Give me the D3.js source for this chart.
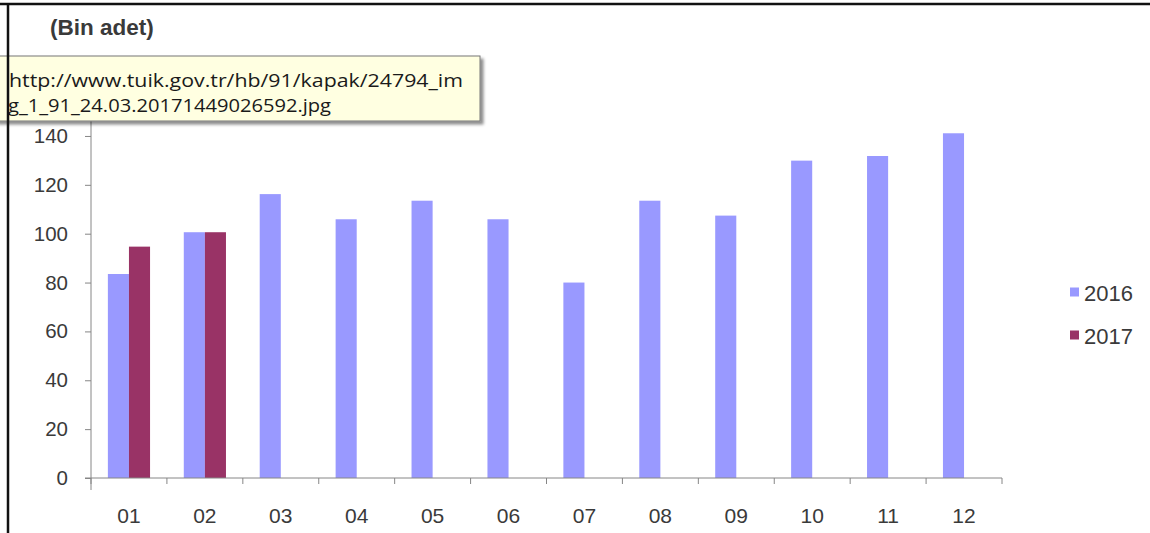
<!DOCTYPE html>
<html><head><meta charset="utf-8">
<script src="https://cdn.jsdelivr.net/npm/d3@7"></script>
<style>
html,body{margin:0;padding:0;background:#fff;}
svg{display:block;}
</style>
</head><body>
<svg id="chart" width="1150" height="533"></svg>
<script>
const months = ["01","02","03","04","05","06","07","08","09","10","11","12"];
const seriesNames = ["2016","2017"];
const values2016 = [83.5,100.6,116.2,105.9,113.5,105.9,80.0,113.5,107.4,129.9,131.8,141.1];
const values2017 = [94.7,100.6,null,null,null,null,null,null,null,null,null,null];
const yTicks = [0,20,40,60,80,100,120,140];
const colors = ["#9999FF","#993366"];
const titleText = "(Bin adet)";
const tooltipLines = ["http://www.tuik.gov.tr/hb/91/kapak/24794_im","g_1_91_24.03.20171449026592.jpg"];

const svg = d3.select("#chart");
const left = 91, right = 1002, y0 = 478, yTop = 87.1;

const x = d3.scaleBand().domain(months).range([left, right]).paddingInner(0).paddingOuter(0);
const x1 = d3.scaleBand().domain(seriesNames).range([0, x.bandwidth()]).paddingInner(0).paddingOuter(0.8);
const y = d3.scaleLinear().domain([0,160]).range([y0, yTop]);

const data = months.map((m,i)=>({m, vals:[values2016[i], values2017[i]]}));

// bars
const g = svg.append("g");
data.forEach(d=>{
  d.vals.forEach((v,j)=>{
    if(v==null) return;
    g.append("rect")
      .attr("x", x(d.m)+x1(seriesNames[j]))
      .attr("y", y(v))
      .attr("width", x1.bandwidth())
      .attr("height", y(0)-y(v))
      .attr("fill", colors[j]);
  });
});

// y axis
const yAxis = d3.axisLeft(y).tickValues(yTicks).tickSize(6).tickPadding(17);
const ya = svg.append("g").attr("transform",`translate(${left},0)`).call(yAxis);
ya.select(".domain").attr("stroke","#868686").attr("d",`M0,${yTop}V${y0+12}`);
ya.selectAll(".tick line").attr("stroke","#868686");
ya.selectAll(".tick text").attr("font-family","Liberation Sans, Arial, sans-serif").attr("font-size",20.5).attr("fill","#3a3a3a");

// x axis
const xa = svg.append("g").attr("transform",`translate(0,${y0})`);
xa.append("line").attr("x1",left-6).attr("x2",right).attr("y1",0).attr("y2",0).attr("stroke","#868686");
const bounds = months.map(m=>x(m)).concat([right]);
xa.selectAll("line.tk").data(bounds).enter().append("line").attr("class","tk")
  .attr("x1",d=>d).attr("x2",d=>d).attr("y1",0).attr("y2",6).attr("stroke","#868686");
xa.selectAll("text").data(months).enter().append("text")
  .attr("x",d=>x(d)+x.bandwidth()/2).attr("y",45)
  .attr("text-anchor","middle")
  .attr("font-family","Liberation Sans, Arial, sans-serif").attr("font-size",21).attr("fill","#3a3a3a")
  .text(d=>d);

// legend
const lg = svg.append("g");
seriesNames.forEach((s,i)=>{
  const cy = 292 + i*43;
  lg.append("rect").attr("x",1070).attr("y",cy-4.5).attr("width",9).attr("height",9).attr("fill",colors[i]);
  lg.append("text").attr("x",1084).attr("y",cy+9).attr("font-family","Liberation Sans, Arial, sans-serif")
    .attr("font-size",22).attr("fill","#3a3a3a").text(s);
});

// title
svg.append("text").attr("x",50).attr("y",35).attr("font-family","Liberation Sans, Arial, sans-serif")
  .attr("font-weight","bold").attr("font-size",22.5).attr("fill","#3a3a3a").text(titleText);

// tooltip
const defs = svg.append("defs");
const f = defs.append("filter").attr("id","sh").attr("x","-5%").attr("y","-20%").attr("width","115%").attr("height","160%");
f.append("feDropShadow").attr("dx",3).attr("dy",3).attr("stdDeviation",1.5).attr("flood-color","#000").attr("flood-opacity",0.45);
svg.append("rect").attr("x",-5).attr("y",56).attr("width",485).attr("height",65)
  .attr("fill","#FFFFE1").attr("stroke","#767676").attr("stroke-width",1).attr("filter","url(#sh)");
svg.append("text").attr("x",9).attr("y",87).attr("font-family","Open Sans, DejaVu Sans, sans-serif")
  .attr("font-size",18).attr("fill","#1a1a1a").attr("textLength",454).attr("lengthAdjust","spacingAndGlyphs").text(tooltipLines[0]);
svg.append("text").attr("x",8).attr("y",112).attr("font-family","Open Sans, DejaVu Sans, sans-serif")
  .attr("font-size",18).attr("fill","#1a1a1a").attr("textLength",323).attr("lengthAdjust","spacingAndGlyphs").text(tooltipLines[1]);

// frame borders (top and left)
svg.append("line").attr("x1",0).attr("x2",1150).attr("y1",4).attr("y2",4).attr("stroke","#111").attr("stroke-width",2.5);
svg.append("line").attr("x1",8).attr("x2",8).attr("y1",3).attr("y2",533).attr("stroke","#111").attr("stroke-width",2.5);
</script>
</body></html>
